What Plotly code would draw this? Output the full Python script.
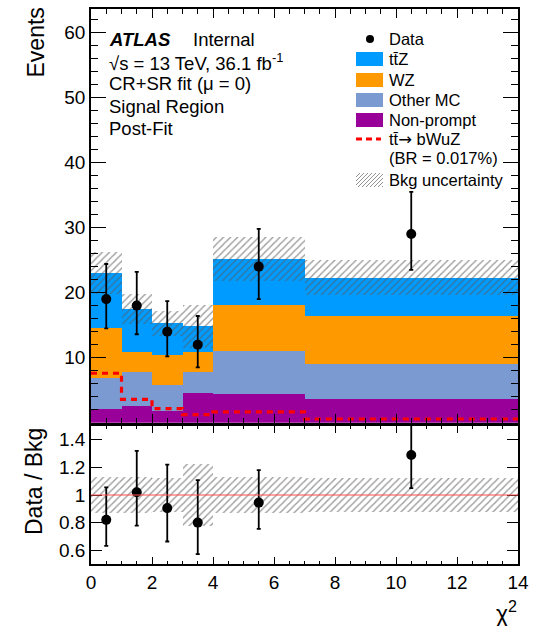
import numpy as np
import plotly.graph_objects as go
from plotly.subplots import make_subplots

# bins of chi^2
bin_edges = [0, 1, 2, 3, 4, 7, 14]

# post-fit background yields per bin
nonprompt = [2.1, 2.5, 1.8, 4.6, 4.4, 3.6]
other_mc = [4.7, 5.25, 4.05, 3.25, 6.7, 5.5]
wz = [7.8, 3.15, 4.55, 3.05, 7.0, 7.3]
ttz = [8.4, 6.6, 4.9, 3.9, 7.1, 5.9]
bkg_unc = [3.2, 2.25, 1.9, 3.3, 3.4, 2.7]

# signal tt -> bWuZ (BR = 0.017%)
signal = [7.6, 3.6, 2.15, 1.23, 1.65, 0.57]

# data with error bar ends
data = [19, 18, 14, 12, 24, 29]
data_hi = [24.4, 23.2, 18.7, 16.4, 29.8, 35.5]
data_lo = [14.5, 13.6, 10.2, 8.5, 19.0, 23.5]

# ratio panel
ratio = [0.82, 1.02, 0.905, 0.80, 0.945, 1.29]
ratio_hi = [1.055, 1.32, 1.22, 1.108, 1.18, 1.59]
ratio_lo = [0.632, 0.778, 0.663, 0.571, 0.755, 1.05]
ratio_band_hi = [1.134, 1.128, 1.124, 1.224, 1.13, 1.12]
ratio_band_lo = [0.866, 0.872, 0.876, 0.776, 0.87, 0.88]

x_ticks = [0, 2, 4, 6, 8, 10, 12, 14]
y_ticks = [10, 20, 30, 40, 50, 60]
r_ticks = [0.6, 0.8, 1.0, 1.2, 1.4]
r_ticktext = ['0.6', '0.8', '1', '1.2', '1.4']

colors = {
    'ttZ': '#009BFF',
    'WZ': '#FF9900',
    'Other MC': '#7B9AD2',
    'Non-prompt': '#990099',
}
HATCH = 'rgb(90,90,90)'

FONT = 'Liberation Sans, Arial, Helvetica, sans-serif'
W, H = 537, 626
PL, PR, PT, PB = 91, 19, 9, 62


def fx(px):
    return (px - PL) / (W - PL - PR)


def fy(py):
    return (H - PB - py) / (H - PT - PB)


edges = np.array(bin_edges, dtype=float)
centers = (edges[:-1] + edges[1:]) / 2
widths = edges[1:] - edges[:-1]

fig = make_subplots(rows=2, cols=1, shared_xaxes=True)

# stacked backgrounds
base = np.zeros(len(centers))
for name, vals in [('Non-prompt', nonprompt), ('Other MC', other_mc),
                   ('WZ', wz), ('ttZ', ttz)]:
    vals = np.array(vals)
    fig.add_trace(go.Bar(x=centers, y=vals, base=base, width=widths,
                         marker=dict(color=colors[name], line=dict(width=0)),
                         showlegend=False), row=1, col=1)
    base = base + vals
total = base

# background uncertainty hatch
unc = np.array(bkg_unc)
fig.add_trace(go.Bar(x=centers, y=2 * unc, base=total - unc, width=widths,
                     marker=dict(color='rgba(0,0,0,0)', line=dict(width=0),
                                 pattern=dict(shape='/', fillmode='overlay',
                                              fgcolor=HATCH, fgopacity=0.6,
                                              size=5, solidity=0.28)),
                     showlegend=False), row=1, col=1)

# signal step line
fig.add_trace(go.Scatter(x=edges, y=signal + [signal[-1]], mode='lines',
                         line=dict(color='#FF0000', width=3.2, shape='hv',
                                   dash='6px,5px'),
                         showlegend=False), row=1, col=1)

# data
d = np.array(data, dtype=float)
fig.add_trace(go.Scatter(x=centers, y=d, mode='markers',
                         marker=dict(color='black', size=10),
                         error_y=dict(type='data', array=np.array(data_hi) - d,
                                      arrayminus=d - np.array(data_lo),
                                      color='black', thickness=1.8, width=2),
                         showlegend=False), row=1, col=1)

# ratio band
rb_lo = np.array(ratio_band_lo)
rb_hi = np.array(ratio_band_hi)
fig.add_trace(go.Bar(x=centers, y=rb_hi - rb_lo, base=rb_lo, width=widths,
                     marker=dict(color='rgba(0,0,0,0)', line=dict(width=0),
                                 pattern=dict(shape='/', fillmode='overlay',
                                              fgcolor=HATCH, fgopacity=0.6,
                                              size=5, solidity=0.28)),
                     showlegend=False), row=2, col=1)

fig.add_shape(type='line', x0=0, x1=14, y0=1, y1=1, xref='x2', yref='y2',
              line=dict(color='rgba(255,80,80,0.7)', width=1.5))

r = np.array(ratio)
fig.add_trace(go.Scatter(x=centers, y=r, mode='markers',
                         marker=dict(color='black', size=10),
                         error_y=dict(type='data', array=np.array(ratio_hi) - r,
                                      arrayminus=r - np.array(ratio_lo),
                                      color='black', thickness=1.8, width=2),
                         showlegend=False, cliponaxis=True), row=2, col=1)

axis_common = dict(showline=True, linecolor='black', linewidth=1.5,
                   mirror='allticks', ticks='inside', tickcolor='black',
                   showgrid=False, zeroline=False, automargin=False,
                   tickfont=dict(family=FONT, size=19, color='black'))

fig.update_layout(
    width=W, height=H,
    margin=dict(l=PL, r=PR, t=PT, b=PB, pad=0, autoexpand=False),
    plot_bgcolor='white', paper_bgcolor='white',
    barmode='overlay', bargap=0,
    font=dict(family=FONT, color='black'),
    showlegend=False,
    xaxis=dict(domain=[0, 1], range=[0, 14], showticklabels=False,
               tickvals=x_ticks, ticklen=9, tickwidth=1,
               minor=dict(dtick=0.5, tick0=0, ticklen=5, ticks='inside',
                          tickcolor='black', tickwidth=1),
               **axis_common),
    yaxis=dict(domain=[fy(422.7), 1], range=[0, 63.6], tickvals=y_ticks,
               ticklen=15, tickwidth=1,
               minor=dict(dtick=2, tick0=0, ticklen=7.5, ticks='inside',
                          tickcolor='black', tickwidth=1),
               **axis_common),
    xaxis2=dict(domain=[0, 1], range=[0, 14], tickvals=x_ticks,
                ticklen=7, tickwidth=1,
                minor=dict(dtick=0.5, tick0=0, ticklen=3.5, ticks='inside',
                           tickcolor='black', tickwidth=1),
                **axis_common),
    yaxis2=dict(domain=[0, fy(426)], range=[0.5, 1.5], tickvals=r_ticks,
                ticktext=r_ticktext, ticklen=11, tickwidth=1,
                **axis_common),
)

ann = []
shapes = []

# axis titles
ann.append(dict(text='Events', x=fx(35), y=fy(42.5), textangle=-90,
                font=dict(size=23)))
ann.append(dict(text='Data / Bkg', x=fx(33.5), y=fy(481.5), textangle=-90,
                font=dict(size=23)))
ann.append(dict(text='\u03c7<sup>2</sup>', x=fx(519), y=fy(612),
                xanchor='right', font=dict(size=23)))

# ATLAS label block
ann.append(dict(text='<b><i>ATLAS</i></b>', x=fx(107), y=fy(40),
                xanchor='left', font=dict(size=18.5)))
ann.append(dict(text='Internal', x=fx(191), y=fy(40), xanchor='left',
                font=dict(size=18.5)))
info_lines = ['\u221as = 13 TeV, 36.1 fb<sup>-1</sup>',
              'CR+SR fit (\u03bc = 0)', 'Signal Region', 'Post-Fit']
for txt, yy in zip(info_lines, [61.7, 84, 106.7, 128.5]):
    ann.append(dict(text=txt, x=fx(107), y=fy(yy), xanchor='left',
                    font=dict(size=18.5)))

# legend
leg_x = 387
arrow = '<span style="font-family:DejaVu Sans">\u2192</span>'
leg_entries = [('Data', 39), ('tt\u0304Z', 59), ('WZ', 80),
               ('Other MC', 100), ('Non-prompt', 120),
               ('tt\u0304' + arrow + ' bWuZ', 139), ('(BR = 0.017%)', 157.5),
               ('Bkg uncertainty', 180)]
for txt, yy in leg_entries:
    ann.append(dict(text=txt, x=fx(leg_x), y=fy(yy), xanchor='left',
                    font=dict(size=16.5)))

for name, yy in [('ttZ', 59), ('WZ', 80), ('Other MC', 100),
                 ('Non-prompt', 120)]:
    shapes.append(dict(type='rect', xref='paper', yref='paper',
                       x0=fx(356), x1=fx(383), y0=fy(yy - 7), y1=fy(yy + 7),
                       fillcolor=colors[name], line=dict(width=0)))

shapes.append(dict(type='circle', xref='paper', yref='paper',
                   x0=fx(366), x1=fx(374), y0=fy(35), y1=fy(43),
                   fillcolor='black', line=dict(width=0)))
shapes.append(dict(type='line', xref='paper', yref='paper',
                   x0=fx(356), x1=fx(381), y0=fy(139), y1=fy(139),
                   line=dict(color='#FF0000', width=3.2, dash='6px,4px')))

# hatched swatch for uncertainty
hx0, hx1, hy0, hy1 = 356, 383, 173, 187
hh = hy1 - hy0
for a in range(hx0 - hh, hx1, 4):
    sx, sy = a, hy1
    ex, ey = a + hh, hy0
    if sx < hx0:
        sy = hy1 - (hx0 - sx)
        sx = hx0
    if ex > hx1:
        ey = hy0 + (ex - hx1)
        ex = hx1
    shapes.append(dict(type='line', xref='paper', yref='paper',
                       x0=fx(sx), x1=fx(ex), y0=fy(sy), y1=fy(ey),
                       line=dict(color='rgba(110,110,110,0.75)', width=1)))

for a_ in ann:
    a_.update(xref='paper', yref='paper', showarrow=False)
    a_.setdefault('xanchor', 'center')
    a_.setdefault('yanchor', 'middle')
    a_['font'] = dict(family=FONT, color='black', **a_['font'])

fig.update_layout(annotations=ann)
for s in shapes:
    fig.add_shape(**s)

# the page body has a default margin; drop it so the figure sits at 0,0
fig.write_html("out.html", config={'displayModeBar': False},
               post_script="document.body.style.margin='0';"
                           "document.body.style.overflow='hidden';")
